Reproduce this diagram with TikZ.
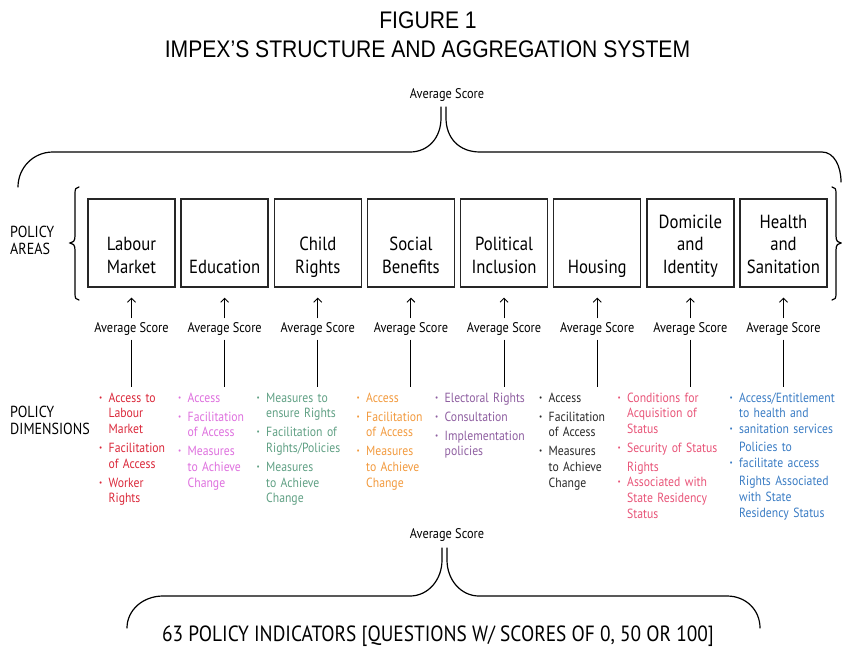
\documentclass[tikz,border=0pt]{standalone}
\usepackage{fontspec}
\setmainfont{PT Sans}[FakeStretch=0.88]
\newfontfamily\titlefont{Liberation Sans}[FakeStretch=0.88]
\usetikzlibrary{arrows.meta}

\definecolor{boxgray}{RGB}{38,38,38}
\definecolor{labourred}{RGB}{218,40,58}
\definecolor{eduorchid}{RGB}{222,112,222}
\definecolor{childgreen}{RGB}{96,160,132}
\definecolor{socialorange}{RGB}{242,154,62}
\definecolor{politpurple}{RGB}{142,94,160}
\definecolor{housegray}{RGB}{40,40,40}
\definecolor{domipink}{RGB}{232,84,120}
\definecolor{healthblue}{RGB}{58,124,196}

\newcommand{\dimdot}{\makebox[9.5pt][l]{\raisebox{0.3ex}{\fontsize{8}{8}\selectfont\textbullet}}}
\newcommand{\dimpad}{\hspace*{9.5pt}}

\begin{document}
\begin{tikzpicture}[x=1pt,y=1pt,yscale=-1,xscale=1,
  areabox/.style={draw=boxgray,line width=1.3pt,minimum width=87pt,minimum height=88pt,inner sep=0pt},
  areatext/.style={font=\fontsize{19}{22.5}\selectfont,align=center,inner sep=0pt,anchor=south},
  scoretext/.style={font=\fontsize{14}{16}\selectfont,inner sep=0pt},
  dimtext/.style={font=\fontsize{13.3}{15.7}\selectfont,text width=114pt,align=left,inner sep=0pt,anchor=base west},
  sidetext/.style={font=\fontsize{16}{16.5}\selectfont,text width=90pt,align=left,inner sep=0pt,anchor=base west},
  bracepath/.style={line width=1.2pt,line cap=round},
  uparrow/.style={-{Straight Barb[length=4pt,width=8pt]},line width=0.9pt}]
\useasboundingbox (0,0) rectangle (842,648);

% Title
\node[font=\titlefont\fontsize{24}{28}\selectfont,inner sep=0pt,anchor=base] (fig) at (428,28) {FIGURE 1};
\node[font=\titlefont\fontsize{24}{28}\selectfont,inner sep=0pt,anchor=base] (title) at (427.5,57) {IMPEX’S STRUCTURE AND AGGREGATION SYSTEM};

% Top brace
\node[scoretext] (topscore) at (447,95) {Average Score};
\draw[bracepath] (18,187) .. controls (18,168) and (33,152) .. (53,152) -- (410,152) .. controls (428,152) and (441,138) .. (441,118) -- (441,107);
\draw[bracepath] (446,107) -- (446,118) .. controls (446,138) and (459,152) .. (480,152) -- (822,152) .. controls (834,152) and (841,166) .. (841,182);

% Side labels
\node[sidetext] (arealab) at (10,237.5) {POLICY\\AREAS};
\node[sidetext] (dimlab) at (10,417.5) {POLICY\\DIMENSIONS};

% Box braces
\draw[bracepath] (79,187) .. controls (76,187) and (75,189) .. (75,193) -- (75,236) .. controls (75,241) and (73,243) .. (70,243) .. controls (73,243) and (75,245) .. (75,250) -- (75,294) .. controls (75,298) and (76,300) .. (79,300);
\draw[bracepath] (832,187) .. controls (835,187) and (836,189) .. (836,193) -- (836,236) .. controls (836,241) and (838,243) .. (841,243) .. controls (838,243) and (836,245) .. (836,250) -- (836,294) .. controls (836,298) and (835,300) .. (832,300);

% Policy areas with their scores
\foreach \i/\name in {0/{Labour\\Market},1/{Education},2/{Child\\Rights},3/{Social\\Benefits},4/{Political\\Inclusion},5/{Housing},6/{Domicile\\and\\Identity},7/{Health\\and\\Sanitation}}{
  \node[areabox] (A\i) at ({131.5+93.14*\i},243) {};
  \node[areatext] (L\i) at ({131.5+93.14*\i},280) {\name\strut};
  \node[scoretext] (S\i) at ({131.5+93.14*\i},329) {Average Score};
  \coordinate (E\i) at ({131.5+93.14*\i},387);
  \draw[uparrow,shorten <=4pt,shorten >=10pt] (S\i.north) -- (A\i.south);
  \draw[line width=1pt,shorten <=4pt] (S\i.south) -- (E\i);
}

% Policy dimensions
\node[dimtext,text=labourred] (D0) at (99,402) {\dimdot Access to\\ \dimpad Labour\\ \dimpad Market\\[3.3pt] \dimdot Facilitation\\ \dimpad of Access\\[3.3pt] \dimdot Worker\\ \dimpad Rights};
\node[dimtext,text=eduorchid] (D1) at (178,402) {\dimdot Access\\[3.3pt] \dimdot Facilitation\\ \dimpad of Access\\[3.3pt] \dimdot Measures\\ \dimpad to Achieve\\ \dimpad Change};
\node[dimtext,text=childgreen] (D2) at (256.5,402) {\dimdot Measures to\\ \dimpad ensure Rights\\[3.3pt] \dimdot Facilitation of\\ \dimpad Rights/Policies\\[3.3pt] \dimdot Measures\\ \dimpad to Achieve\\ \dimpad Change};
\node[dimtext,text=socialorange] (D3) at (356.5,402) {\dimdot Access\\[3.3pt] \dimdot Facilitation\\ \dimpad of Access\\[3.3pt] \dimdot Measures\\ \dimpad to Achieve\\ \dimpad Change};
\node[dimtext,text=politpurple] (D4) at (435,402) {\dimdot Electoral Rights\\[3.3pt] \dimdot Consultation\\[3.3pt] \dimdot Implementation\\ \dimpad policies};
\node[dimtext,text=housegray] (D5) at (539,402) {\dimdot Access\\[3.3pt] \dimdot Facilitation\\ \dimpad of Access\\[3.3pt] \dimdot Measures\\ \dimpad to Achieve\\ \dimpad Change};
\node[dimtext,text=domipink] (D6) at (617.5,402) {\dimdot Conditions for\\ \dimpad Acquisition of\\ \dimpad Status\\[3pt] \dimdot Security of Status\\[3.3pt] \dimpad Rights\\ \dimdot Associated with\\ \dimpad State Residency\\ \dimpad Status};
\node[dimtext,text=healthblue] (D7) at (729.5,402) {\dimdot Access/Entitlement\\ \dimpad to health and\\ \dimdot sanitation services\\[2.6pt] \dimpad Policies to\\ \dimdot facilitate access\\[2.6pt] \dimpad Rights Associated\\ \dimpad with State\\ \dimpad Residency Status};

% Bottom brace
\node[scoretext] (botscore) at (447,535) {Average Score};
\draw[bracepath] (127,628) .. controls (127,610) and (143,596) .. (163,596) -- (410,596) .. controls (428,596) and (442,580) .. (442,560) -- (442,548);
\draw[bracepath] (447,548) -- (447,560) .. controls (447,580) and (461,596) .. (479,596) -- (727,596) .. controls (746,596) and (760,610) .. (760,628);
\node[font=\fontsize{22}{26}\selectfont,inner sep=0pt,anchor=base] (indic) at (438,641) {63 POLICY INDICATORS [QUESTIONS W/ SCORES OF 0, 50 OR 100]};

\end{tikzpicture}
\end{document}
